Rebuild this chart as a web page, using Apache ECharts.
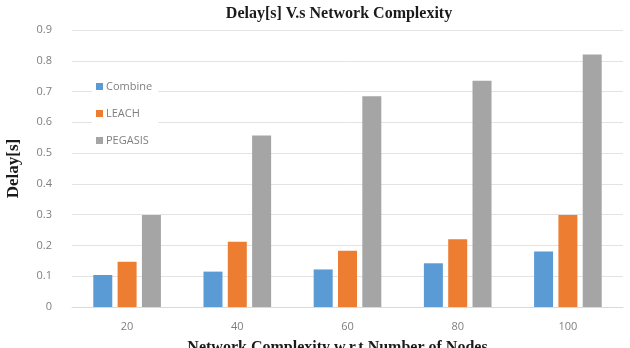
<!DOCTYPE html>
<html>
<head>
<meta charset="utf-8">
<script src="https://cdn.jsdelivr.net/npm/echarts@6/dist/echarts.min.js"></script>
<style>
  html, body { margin: 0; padding: 0; background: #fff; }
  #main { width: 630px; height: 348px; }
</style>
</head>
<body>
<div id="main"></div>
<script>
const nodes = ['20', '40', '60', '80', '100'];
const combine = [0.104, 0.115, 0.122, 0.142, 0.18];
const leach = [0.147, 0.212, 0.183, 0.22, 0.299];
const pegasis = [0.299, 0.557, 0.685, 0.735, 0.82];

const serif = '"Liberation Serif", "DejaVu Serif", serif';
const sans = '"Open Sans", "Liberation Sans", sans-serif';

let chart = echarts.init(document.getElementById('main'));

function bar(name, data, color) {
    return {
        name: name,
        type: 'bar',
        data: data,
        barWidth: 19,
        barGap: '28%',
        itemStyle: { color: color }
    };
}

let option = {
    animation: false,
    backgroundColor: '#fff',
    title: {
        text: 'Delay[s] V.s Network Complexity',
        left: 334,
        textAlign: 'center',
        top: 1,
        textStyle: { fontFamily: serif, fontWeight: 'bold', fontSize: 16, color: '#1a1a1a' }
    },
    legend: {
        orient: 'vertical',
        left: 92,
        top: 79,
        itemWidth: 7,
        itemHeight: 7,
        itemGap: 16,
        padding: [2, 6, 2, 4],
        backgroundColor: '#fff',
        icon: 'rect',
        textStyle: { fontFamily: sans, fontSize: 11, color: '#7f7f7f', padding: [0, 0, 0, -2] },
        data: ['Combine', 'LEACH', 'PEGASIS']
    },
    grid: {
        left: 72,
        right: 7,
        top: 30,
        bottom: 41,
        outerBoundsMode: 'none',
        containLabel: false
    },
    xAxis: {
        type: 'category',
        data: nodes,
        axisLine: { show: true, lineStyle: { color: '#d9d9d9' } },
        axisTick: { show: false },
        axisLabel: { margin: 14, fontFamily: sans, fontSize: 11, color: '#7f7f7f' },
        name: 'Network Complexity w.r.t Number of Nodes',
        nameLocation: 'middle',
        nameGap: 33,
        nameTextStyle: { fontFamily: serif, fontWeight: 'bold', fontSize: 16, color: '#1a1a1a', padding: [0, 20, 0, 0] }
    },
    yAxis: {
        type: 'value',
        min: 0,
        max: 0.9,
        interval: 0.1,
        axisLine: { show: false },
        axisTick: { show: false },
        splitLine: { lineStyle: { color: '#e3e3e3' } },
        axisLabel: {
            margin: 20,
            fontFamily: sans,
            fontSize: 11,
            color: '#7f7f7f',
            formatter: v => v === 0 ? '0' : v.toFixed(1)
        },
        name: 'Delay[s]',
        nameLocation: 'middle',
        nameGap: 50,
        nameTextStyle: { fontFamily: serif, fontWeight: 'bold', fontSize: 17, color: '#1a1a1a' }
    },
    series: [
        bar('Combine', combine, '#5b9bd5'),
        bar('LEACH', leach, '#ed7d31'),
        bar('PEGASIS', pegasis, '#a5a5a5')
    ]
};

chart.setOption(option);
</script>
</body>
</html>
